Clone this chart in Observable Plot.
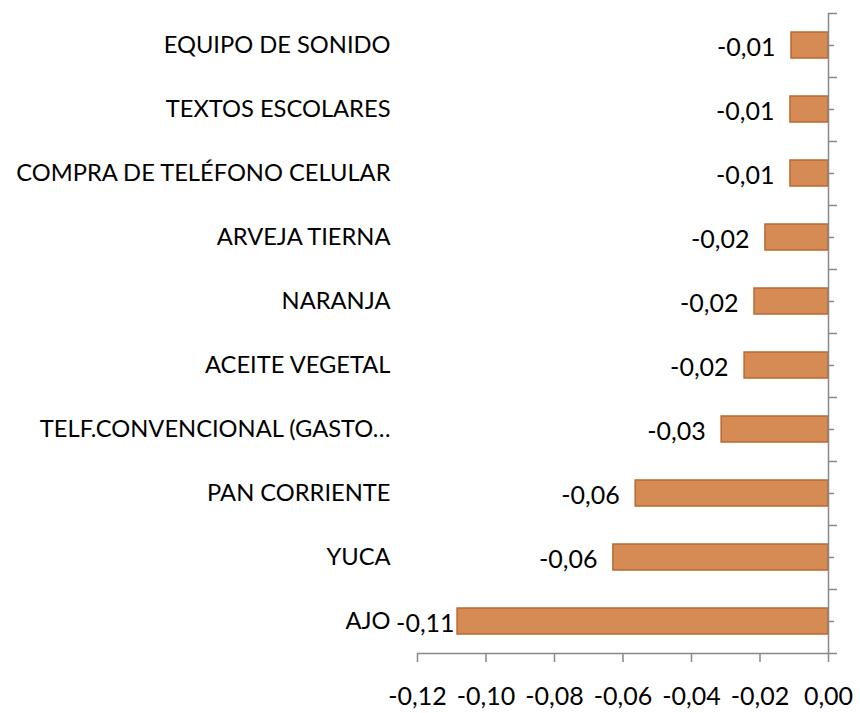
<!DOCTYPE html>
<html>
<head>
<meta charset="utf-8">
<script src="https://cdn.jsdelivr.net/npm/d3@7"></script>
<script src="https://cdn.jsdelivr.net/npm/@observablehq/plot@0.6"></script>
<style>
  html, body { margin: 0; padding: 0; background: #fff; }
</style>
</head>
<body>
<div id="chart"></div>
<script>
const categories = [
  "EQUIPO DE SONIDO",
  "TEXTOS ESCOLARES",
  "COMPRA DE TELÉFONO CELULAR",
  "ARVEJA TIERNA",
  "NARANJA",
  "ACEITE VEGETAL",
  "TELF.CONVENCIONAL (GASTO…",
  "PAN CORRIENTE",
  "YUCA",
  "AJO"
];
const values = [-0.0108, -0.0111, -0.0111, -0.0184, -0.0216, -0.0245, -0.0312, -0.0563, -0.0628, -0.1083];
const xTicks = [-0.12, -0.10, -0.08, -0.06, -0.04, -0.02, 0.00];

const data = categories.map((c, i) => ({category: c, value: values[i]}));
const fmt = d => d.toFixed(2).replace(".", ",").replace("-0,00", "0,00");
const axisColor = "#888888";
const minValue = d3.min(values);

const chart = Plot.plot({
  width: 860,
  height: 713,
  marginLeft: 417,
  marginRight: 32,
  marginTop: 13,
  marginBottom: 60,
  style: {fontFamily: "Lato, 'Open Sans', sans-serif", background: "#fff", color: "#000"},
  x: {domain: [-0.12, 0], label: null},
  y: {domain: categories, paddingInner: 0.6, paddingOuter: 0.3, label: null},
  marks: [
    Plot.barX(data, {x: "value", y: "category", fill: "#D68A54", stroke: "#B9692F", strokeWidth: 1.5}),
    Plot.text(data.filter(d => d.value > minValue), {x: "value", y: "category", text: d => fmt(d.value), textAnchor: "end", dx: -16, dy: 2, fontSize: 25, fill: "#000"}),
    Plot.text(data.filter(d => d.value === minValue), {x: "value", y: "category", text: d => fmt(d.value), textAnchor: "end", dx: -3, dy: 2, fontSize: 25, fill: "#000"}),
    Plot.ruleX([0], {stroke: axisColor, strokeWidth: 1.5}),
    Plot.ruleY([categories[categories.length - 1]], {y: d => d, dy: 32, x1: xTicks[0], x2: xTicks[xTicks.length - 1], insetRight: -9, stroke: axisColor, strokeWidth: 1.5}),
    Plot.ruleY(categories, {y: d => d, dy: -32, x1: 0, x2: 0, insetRight: -9, stroke: axisColor, strokeWidth: 1.5}),
    Plot.ruleY(categories, {y: d => d, x1: 0, x2: 0, insetRight: -6, stroke: axisColor, strokeWidth: 1.5}),
    Plot.axisY({anchor: "left", tickSize: 0, tickPadding: 27, fontSize: 23.7, label: null}),
    Plot.axisX({ticks: xTicks, tickFormat: fmt, tickSize: 9, tickPadding: 25, fontSize: 25, stroke: axisColor, strokeWidth: 1.5, label: null})
  ]
});
document.getElementById("chart").appendChild(chart);
</script>
</body>
</html>
